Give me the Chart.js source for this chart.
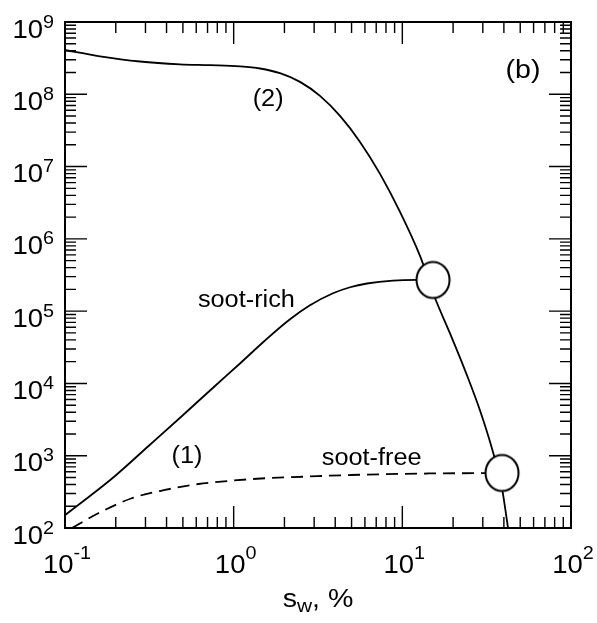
<!DOCTYPE html>
<html>
<head>
<meta charset="utf-8">
<script src="https://cdn.jsdelivr.net/npm/chart.js@4.4.1/dist/chart.umd.min.js"></script>
<style>
  html, body { margin: 0; padding: 0; background: #fff; }
  #wrap { width: 597px; height: 623px; position: relative; }
</style>
</head>
<body>
<div id="wrap"><canvas id="chart"></canvas></div>
<script>
// curve (2)
const curve2X = [0.1, 0.1612, 0.2784, 0.4806, 0.724, 1.09, 1.433, 1.882, 2.474, 3.25, 4.27, 5.612, 7.374, 9.687, 12.73, 15.62, 19.17, 24.08, 28.88, 34.34, 39.0, 42.33];
const curve2Y = [4.1e8, 3.354e8, 2.842e8, 2.599e8, 2.526e8, 2.431e8, 2.274e8, 1.957e8, 1.484e8, 9.5e7, 5.02e7, 2.195e7, 7.92e6, 2.361e6, 5.81e5, 1.521e5, 4.925e4, 1.326e4, 4224, 1160, 354, 100];

// curve (1), soot-rich
const richX = [0.1, 0.1406, 0.198, 0.3105, 0.494, 0.775, 1.09, 1.534, 2.158, 2.835, 3.88, 4.90, 6.175, 8.80, 12.22, 15.2];
const richY = [151, 277, 525, 1343, 3547, 9220, 1.889e4, 3.93e4, 7.72e4, 1.205e5, 1.766e5, 2.14e5, 2.413e5, 2.647e5, 2.70e5, 2.7e5];

// curve (1), soot-free (dashed)
const freeX = [0.11, 0.1575, 0.2486, 0.3916, 0.617, 0.974, 1.534, 2.65, 4.90, 14.26, 30.2, 39];
const freeY = [100, 160, 258, 336, 406, 452, 488, 513, 541, 568, 574, 577];

// intersection markers
const markX = [15.2, 39.0];
const markY = [2.7e5, 577];

// axes
const xDecades = [0.1, 1, 10, 100];
const xExponents = ['-1', '0', '1', '2'];
const yDecades = [1e2, 1e3, 1e4, 1e5, 1e6, 1e7, 1e8, 1e9];
const yExponents = ['2', '3', '4', '5', '6', '7', '8', '9'];

// text notes, anchored in data units (centre x, baseline y)
const noteText = ['(b)', '(2)', 'soot-rich', '(1)', 'soot-free'];
const noteX = [51.9, 1.6, 1.19, 0.529, 6.58];
const noteY = [1.68e8, 6.9e7, 1.15e5, 793, 745];
const noteSize = [26, 23, 23, 23, 23];

const FONT = '"Liberation Sans", Arial, sans-serif';
const SX = 1.1;

function pts(xs, ys) {
  return xs.map((v, i) => ({ x: v, y: ys[i] }));
}

// ellipse marker used as point style
const ell = document.createElement('canvas');
ell.width = 38; ell.height = 41;
{
  const c = ell.getContext('2d');
  c.beginPath();
  c.ellipse(19, 20.5, 16.5, 18, 0, 0, Math.PI * 2);
  c.fillStyle = '#fff';
  c.fill();
  c.lineWidth = 2;
  c.strokeStyle = '#000';
  c.stroke();
}

function stretchText(ctx, str, x, y, size, align) {
  ctx.save();
  ctx.font = size + 'px ' + FONT;
  const w = ctx.measureText(str).width * SX;
  const left = align === 'center' ? x - w / 2 : align === 'right' ? x - w : x;
  ctx.translate(left, y);
  ctx.scale(SX, 1);
  ctx.textAlign = 'left';
  ctx.textBaseline = 'alphabetic';
  ctx.fillStyle = '#000';
  ctx.fillText(str, 0, 0);
  ctx.restore();
  return w;
}

function textWidth(ctx, str, size) {
  ctx.save();
  ctx.font = size + 'px ' + FONT;
  const w = ctx.measureText(str).width * SX;
  ctx.restore();
  return w;
}

const frame = {
  id: 'frame',
  afterDraw(chart) {
    const { ctx, chartArea: a, scales: { x, y } } = chart;
    ctx.save();
    ctx.strokeStyle = '#000';

    // inward ticks on all four sides
    ctx.lineWidth = 1.4;
    ctx.beginPath();
    xDecades.forEach(d => {
      for (let m = 1; m <= 9; m++) {
        const v = d * m;
        if (v > 100 + 1e-9) break;
        const px = x.getPixelForValue(v);
        const len = m === 1 ? 22 : 11;
        ctx.moveTo(px, a.bottom); ctx.lineTo(px, a.bottom - len);
        ctx.moveTo(px, a.top); ctx.lineTo(px, a.top + len);
      }
    });
    yDecades.forEach(d => {
      for (let m = 1; m <= 9; m++) {
        const v = d * m;
        if (v > 1e9 + 1) break;
        const py = y.getPixelForValue(v);
        const len = m === 1 ? 22 : 11;
        ctx.moveTo(a.left, py); ctx.lineTo(a.left + len, py);
        ctx.moveTo(a.right, py); ctx.lineTo(a.right - len, py);
      }
    });
    ctx.stroke();

    // frame
    ctx.lineWidth = 2;
    ctx.strokeRect(a.left, a.top, a.right - a.left, a.bottom - a.top);

    // x tick labels
    xDecades.forEach((d, i) => {
      const px = x.getPixelForValue(d);
      const wb = textWidth(ctx, '10', 25);
      const we = textWidth(ctx, xExponents[i], 18);
      const left = px - (wb + we) / 2 + 2;
      stretchText(ctx, '10', left, a.bottom + 45, 25, 'left');
      stretchText(ctx, xExponents[i], left + wb, a.bottom + 31, 18, 'left');
    });

    // y tick labels
    yDecades.forEach((d, i) => {
      const py = y.getPixelForValue(d);
      const wb = textWidth(ctx, '10', 25);
      const we = textWidth(ctx, yExponents[i], 18);
      const right = a.left - 11;
      stretchText(ctx, '10', right - we - wb, py + 15.5, 25, 'left');
      stretchText(ctx, yExponents[i], right - we, py + 5.5, 18, 'left');
    });

    // axis title  s_w, %
    {
      const ws = textWidth(ctx, 's', 26);
      const ww = textWidth(ctx, 'w', 19);
      const wr = textWidth(ctx, ', %', 26);
      const cx = (a.left + a.right) / 2;
      const left = cx - (ws + ww + wr) / 2;
      stretchText(ctx, 's', left, a.bottom + 79, 26, 'left');
      stretchText(ctx, 'w', left + ws, a.bottom + 84, 19, 'left');
      stretchText(ctx, ', %', left + ws + ww, a.bottom + 79, 26, 'left');
    }

    // notes
    noteText.forEach((t, i) => {
      stretchText(ctx, t, x.getPixelForValue(noteX[i]), y.getPixelForValue(noteY[i]), noteSize[i], 'center');
    });

    ctx.restore();
  }
};

const hiddenScale = {
  display: true,
  ticks: { display: false },
  grid: { display: false, drawTicks: false },
  border: { display: false },
  afterFit(s) { if (s.isHorizontal()) s.height = 0; else s.width = 0; }
};

const lineStyle = {
  borderColor: '#000',
  borderWidth: 1.8,
  pointRadius: 0,
  cubicInterpolationMode: 'monotone',
  fill: false,
  order: 1
};

new Chart(document.getElementById('chart'), {
  type: 'line',
  data: {
    datasets: [
      {
        label: 'markers',
        data: pts(markX, markY),
        showLine: false,
        pointStyle: ell,
        pointRadius: 18,
        order: 0
      },
      Object.assign({ label: '(2)', data: pts(curve2X, curve2Y) }, lineStyle),
      Object.assign({ label: 'soot-rich', data: pts(richX, richY) }, lineStyle),
      Object.assign({ label: 'soot-free', data: pts(freeX, freeY), borderDash: [12, 7] }, lineStyle)
    ]
  },
  options: {
    responsive: true,
    maintainAspectRatio: false,
    animation: false,
    layout: { padding: { left: 65, right: 26, top: 22, bottom: 95 } },
    plugins: { legend: { display: false }, tooltip: { enabled: false } },
    scales: {
      x: Object.assign({ type: 'logarithmic', min: 0.1, max: 100 }, hiddenScale),
      y: Object.assign({ type: 'logarithmic', min: 100, max: 1e9 }, hiddenScale)
    }
  },
  plugins: [frame]
});
</script>
</body>
</html>
